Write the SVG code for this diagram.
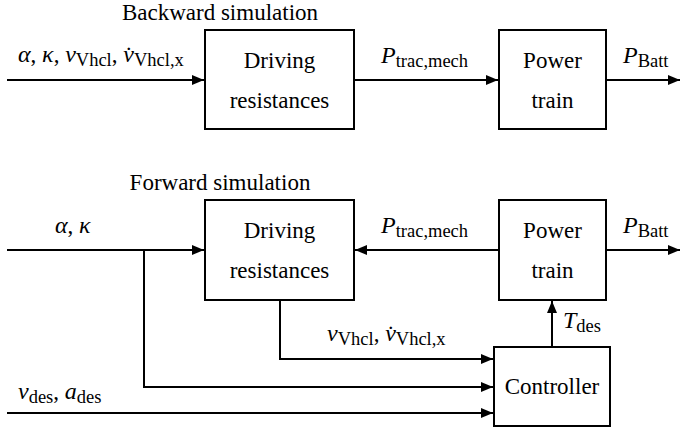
<svg xmlns="http://www.w3.org/2000/svg" width="680" height="430" viewBox="0 0 680 430">
<defs>
<marker id="ah" markerWidth="12" markerHeight="10" refX="12" refY="5" orient="auto" markerUnits="userSpaceOnUse">
<path d="M0,0 L12,5 L0,10 Z" fill="#000"/>
</marker>
<style>
text{font-family:"Liberation Serif","Times New Roman",serif;font-size:23px;fill:#000}
.c{text-anchor:middle}
.i{font-style:italic;font-size:24px}
.s{font-size:18.5px;font-style:normal}
.box{fill:#fff;stroke:#000;stroke-width:2}
.ln{fill:none;stroke:#000;stroke-width:2}
</style>
</defs>
<rect width="680" height="430" fill="#fff"/>

<text x="220" y="20" class="c">Backward simulation</text>
<text x="220" y="190" class="c">Forward simulation</text>

<g id="connectors">
<line class="ln" x1="7" y1="80" x2="204" y2="80" marker-end="url(#ah)"/>
<line class="ln" x1="355" y1="80" x2="498" y2="80" marker-end="url(#ah)"/>
<line class="ln" x1="607" y1="80" x2="680" y2="80" marker-end="url(#ah)"/>
<line class="ln" x1="7" y1="250" x2="204" y2="250" marker-end="url(#ah)"/>
<line class="ln" x1="498" y1="250" x2="355" y2="250" marker-end="url(#ah)"/>
<line class="ln" x1="607" y1="250" x2="680" y2="250" marker-end="url(#ah)"/>
<polyline class="ln" points="144,250 144,387 493,387" marker-end="url(#ah)"/>
<polyline class="ln" points="280,301 280,359 493,359" marker-end="url(#ah)"/>
<line class="ln" x1="7" y1="413" x2="493" y2="413" marker-end="url(#ah)"/>
<line class="ln" x1="552" y1="346" x2="552" y2="301" marker-end="url(#ah)"/>

<text x="18" y="62"><tspan class="i">α</tspan>, <tspan class="i">κ</tspan>, <tspan class="i">v</tspan><tspan class="s" dy="4">Vhcl</tspan><tspan dy="-4">, </tspan><tspan class="i">v&#x307;</tspan><tspan class="s" dy="4">Vhcl,x</tspan></text>
<text x="381" y="63"><tspan class="i">P</tspan><tspan class="s" dy="4">trac,mech</tspan></text>
<text x="623" y="63"><tspan class="i">P</tspan><tspan class="s" dy="4">Batt</tspan></text>
<text x="55" y="233"><tspan class="i">α</tspan>, <tspan class="i">κ</tspan></text>
<text x="381" y="233"><tspan class="i">P</tspan><tspan class="s" dy="4">trac,mech</tspan></text>
<text x="623" y="233"><tspan class="i">P</tspan><tspan class="s" dy="4">Batt</tspan></text>
<text x="327" y="341"><tspan class="i">v</tspan><tspan class="s" dy="4">Vhcl</tspan><tspan dy="-4">, </tspan><tspan class="i">v&#x307;</tspan><tspan class="s" dy="4">Vhcl,x</tspan></text>
<text x="563" y="328"><tspan class="i">T</tspan><tspan class="s" dy="4">des</tspan></text>
<text x="18" y="399"><tspan class="i">v</tspan><tspan class="s" dy="4">des</tspan><tspan dy="-4">, </tspan><tspan class="i">a</tspan><tspan class="s" dy="4">des</tspan></text>
</g>

<g id="bw-driving">
<rect class="box" x="205" y="30" width="149" height="99"/>
<text x="279.5" y="68" class="c">Driving</text>
<text x="279.5" y="108" class="c">resistances</text>
</g>
<g id="bw-powertrain">
<rect class="box" x="499" y="30" width="107" height="99"/>
<text x="552.5" y="68" class="c">Power</text>
<text x="552.5" y="108" class="c">train</text>
</g>
<g id="fw-driving">
<rect class="box" x="205" y="200" width="149" height="100"/>
<text x="279.5" y="238" class="c">Driving</text>
<text x="279.5" y="278" class="c">resistances</text>
</g>
<g id="fw-powertrain">
<rect class="box" x="499" y="200" width="107" height="100"/>
<text x="552.5" y="238" class="c">Power</text>
<text x="552.5" y="278" class="c">train</text>
</g>
<g id="controller">
<rect class="box" x="494" y="347" width="116" height="79"/>
<text x="552" y="394" class="c">Controller</text>
</g>
</svg>
